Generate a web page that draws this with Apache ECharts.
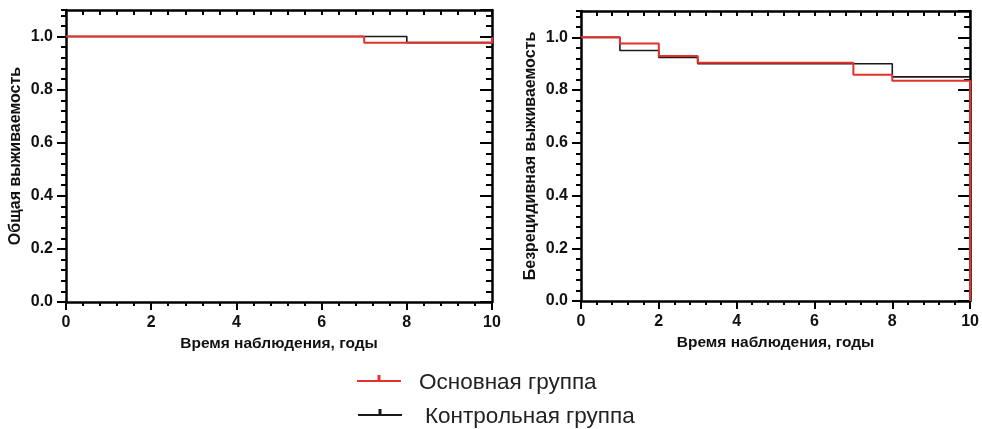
<!DOCTYPE html>
<html>
<head>
<meta charset="utf-8">
<script src="https://cdn.jsdelivr.net/npm/echarts@6/dist/echarts.min.js"></script>
<style>
  html,body{margin:0;padding:0;background:#fff;}
  #chart{width:982px;height:429px;}
</style>
</head>
<body>
<div id="chart"></div>
<script>
"use strict";

// survival curves, [years, survival] points of each step
var osMain=[[0,1],[7,0.977],[10,0.977],[10,0.997]];
var osControl=[[0,1],[8,0.977],[10,0.977]];
var rfsMain=[[0,1],[1,0.977],[2,0.929],[3,0.904],[7,0.858],[8,0.835],[10,0.835],[10,0]];
var rfsControl=[[0,1],[1,0.95],[2,0.924],[3,0.9],[8,0.85],[10,0.85]];

var groupNames=['Основная группа','Контрольная группа'];
var yNames=['Общая выживаемость','Безрецидивная выживаемость'];
var xName='Время наблюдения, годы';

var RED='#e3322b', BLACK='#1a1a1a';
var FONT='"Liberation Sans", Arial, sans-serif';

function xAxes(grid){
  var base={gridIndex:grid,type:'value',min:0,max:10,
    axisLine:{onZero:false,lineStyle:{color:'#000',width:2.5}},
    splitLine:{show:false}};
  return [
    Object.assign({},base,{position:'bottom',interval:2,
      axisTick:{length:8,lineStyle:{color:'#000',width:2}},
      axisLabel:{margin:13,color:'#111',fontFamily:FONT,fontWeight:'bold',fontSize:16},
      name:xName,nameLocation:'middle',nameGap:32,
      nameTextStyle:{color:'#111',fontFamily:FONT,fontWeight:'bold',fontSize:15.5}}),
    Object.assign({},base,{position:'bottom',interval:0.4,
      axisLine:{show:false,onZero:false},
      axisTick:{length:4,lineStyle:{color:'#000',width:2}},
      axisLabel:{show:false}}),
    Object.assign({},base,{position:'top',interval:0.4,
      axisTick:{inside:true,length:5,lineStyle:{color:'#000',width:2}},
      axisLabel:{show:false}})
  ];
}

function yAxes(grid,yName){
  var base={gridIndex:grid,type:'value',min:0,max:1.1,
    axisLine:{onZero:false,lineStyle:{color:'#000',width:2.5}},
    splitLine:{show:false}};
  return [
    Object.assign({},base,{position:'left',interval:0.2,
      axisTick:{length:9,lineStyle:{color:'#000',width:2}},
      axisLabel:{margin:13,showMaxLabel:false,color:'#111',fontFamily:FONT,fontWeight:'bold',fontSize:16,
        formatter:function(v){return v.toFixed(1);}},
      name:yName,nameLocation:'middle',nameGap:42,
      nameTextStyle:{color:'#111',fontFamily:FONT,fontWeight:'bold',fontSize:16}}),
    Object.assign({},base,{position:'left',interval:0.04,
      axisLine:{show:false,onZero:false},
      axisTick:{length:5,lineStyle:{color:'#000',width:2}},
      axisLabel:{show:false}}),
    Object.assign({},base,{position:'right',interval:0.04,
      axisTick:{inside:true,length:6,lineStyle:{color:'#000',width:2}},
      axisLabel:{show:false}}),
    Object.assign({},base,{position:'right',interval:0.2,
      axisLine:{show:false,onZero:false},
      axisTick:{inside:true,length:12,lineStyle:{color:'#000',width:2}},
      axisLabel:{show:false}})
  ];
}

function stepLine(name,data,xi,yi,color,width,z){
  return {name:name,type:'line',step:'end',data:data,xAxisIndex:xi,yAxisIndex:yi,
    symbol:'none',color:color,itemStyle:{color:color},
    lineStyle:{color:color,width:width},z:z,animation:false};
}

// legend mark: short line with a small upright tick, sitting a bit above the text middle
var legendIcon='path://M0,5H20.5V0H23.5V5H44V7H0ZM0,15H0.05V15.05H0Z';

var chart=echarts.init(document.getElementById('chart'),null,{renderer:'canvas'});
chart.setOption({
  backgroundColor:'#fff',
  animation:false,
  grid:[
    {left:66,right:490,top:10,bottom:127},
    {left:581,right:9,top:11,bottom:128}
  ],
  xAxis:xAxes(0).concat(xAxes(1)),
  yAxis:yAxes(0,yNames[0]).concat(yAxes(1,yNames[1])),
  legend:[
    {data:[groupNames[0]],left:352,top:366,icon:legendIcon,itemWidth:44,itemHeight:16,itemGap:0,
      selectedMode:false,textStyle:{color:'#222',fontFamily:FONT,fontSize:22.5,padding:[0,0,0,13]}},
    {data:[groupNames[1]],left:353,top:400,icon:legendIcon,itemWidth:44,itemHeight:16,itemGap:0,
      selectedMode:false,textStyle:{color:'#222',fontFamily:FONT,fontSize:22.5,padding:[0,0,0,18]}}
  ],
  series:[
    stepLine(groupNames[1],osControl,0,0,BLACK,1.6,2),
    stepLine(groupNames[0],osMain,0,0,RED,2,3),
    stepLine(groupNames[1],rfsControl,3,4,BLACK,1.6,2),
    stepLine(groupNames[0],rfsMain,3,4,RED,2,3)
  ]
});
</script>
</body>
</html>
